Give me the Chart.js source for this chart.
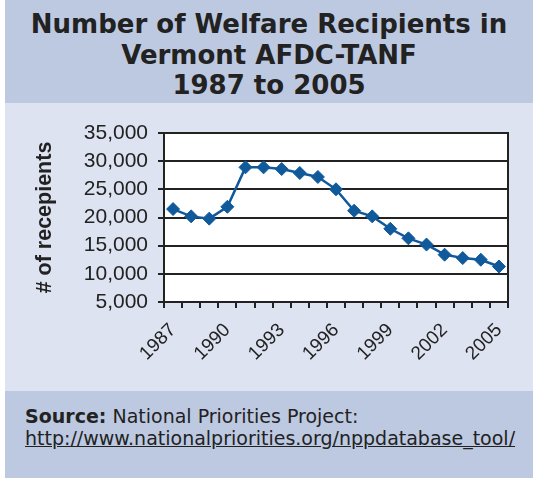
<!DOCTYPE html>
<html>
<head>
<meta charset="utf-8">
<script src="https://cdn.jsdelivr.net/npm/chart.js@4/dist/chart.umd.min.js"></script>
<style>
  html, body { margin: 0; padding: 0; background: #ffffff; }
  #page { position: relative; width: 533px; height: 478px; overflow: hidden; }
  #head { position: absolute; left: 5px; top: 0; width: 528px; height: 103px; background: #bdc9e1;
          font-family: "DejaVu Sans", Verdana, sans-serif; font-weight: bold; font-size: 26px;
          line-height: 30.5px; color: #222; text-align: center; box-sizing: border-box; padding-top: 9px; }
  #mid { position: absolute; left: 5px; top: 103px; width: 528px; height: 288px; background: #dde3f0; }
  #foot { position: absolute; left: 5px; top: 391px; width: 528px; height: 87px; background: #bdc9e1;
          font-family: "DejaVu Sans", Verdana, sans-serif; font-size: 19px; line-height: 22px; color: #222;
          box-sizing: border-box; padding: 14px 0 0 20px; }
  #foot a { color: #222; text-decoration: underline; }
  #chartBox { position: absolute; left: 0; top: 0; width: 528px; height: 288px; }
</style>
</head>
<body>
<div id="page">
  <div id="head">Number of Welfare Recipients in<br>Vermont AFDC-TANF<br>1987 to 2005</div>
  <div id="mid"><div id="chartBox"><canvas id="c"></canvas></div></div>
  <div id="foot"><b>Source:</b> National Priorities Project:<br><a>http://www.nationalpriorities.org/nppdatabase_tool/</a></div>
</div>
<script>
// Vermont AFDC-TANF welfare recipients by year
const years = ['1987','1988','1989','1990','1991','1992','1993','1994','1995','1996',
               '1997','1998','1999','2000','2001','2002','2003','2004','2005'];
const recipients = [21500, 20200, 19800, 21900, 28900, 28900, 28600, 27900, 27200, 25000,
                    21200, 20200, 18000, 16300, 15200, 13400, 12800, 12500, 11300];
const yTicks = [5000, 10000, 15000, 20000, 25000, 30000, 35000];

const ink = '#222222';
const lineBlue = '#105a9b';

// white plot area and a frame line on its right side
const plotFrame = {
  id: 'plotFrame',
  beforeDraw(chart) {
    const { ctx, chartArea: a } = chart;
    ctx.save();
    ctx.fillStyle = '#ffffff';
    ctx.fillRect(a.left, a.top, a.right - a.left, a.bottom - a.top);
    ctx.restore();
  },
  afterDatasetsDraw(chart) {
    const { ctx, chartArea: a } = chart;
    ctx.save();
    ctx.strokeStyle = ink;
    ctx.lineWidth = 2;
    ctx.beginPath();
    ctx.moveTo(a.right, a.top - 1);
    ctx.lineTo(a.right, a.bottom + 6);
    ctx.stroke();
    ctx.restore();
  }
};

new Chart(document.getElementById('c'), {
  type: 'line',
  data: {
    labels: years,
    datasets: [{
      data: recipients,
      borderColor: lineBlue,
      backgroundColor: lineBlue,
      borderWidth: 2.5,
      pointStyle: 'rectRot',
      pointRadius: 6.5,
      pointBorderWidth: 1,
      pointBackgroundColor: lineBlue,
      pointBorderColor: lineBlue,
      tension: 0,
      clip: false
    }]
  },
  options: {
    responsive: true,
    maintainAspectRatio: false,
    animation: false,
    events: [],
    layout: { padding: { top: 30, right: 25, left: 0, bottom: 0 } },
    plugins: { legend: { display: false }, tooltip: { enabled: false } },
    scales: {
      x: {
        type: 'category',
        offset: true,
        grid: { offset: true, drawOnChartArea: false, drawTicks: true, tickLength: 6, color: ink, lineWidth: 2 },
        border: { color: ink, width: 2 },
        ticks: {
          autoSkip: false,
          minRotation: 45,
          maxRotation: 45,
          padding: 11,
          color: ink,
          font: { family: '"Liberation Sans", Arial, sans-serif', size: 19 },
          callback(v, i) { return i % 3 === 0 ? years[i] : ''; }
        },
        afterFit(scale) { scale.height = 89; }
      },
      y: {
        min: 5000,
        max: 35000,
        afterBuildTicks(scale) { scale.ticks = yTicks.map(v => ({ value: v })); },
        grid: { color: ink, lineWidth: 2, tickLength: 6 },
        border: { color: ink, width: 2 },
        ticks: {
          autoSkip: false,
          padding: 10,
          color: ink,
          font: { family: '"Liberation Sans", Arial, sans-serif', size: 21 },
          callback(v) { return v.toLocaleString('en-US'); }
        },
        title: {
          display: true,
          text: '# of recepients',
          color: ink,
          padding: { top: 27, bottom: 0 },
          font: { family: '"Liberation Sans", Arial, sans-serif', size: 21.5, weight: 'bold' }
        },
        afterFit(scale) { scale.width = 159; }
      }
    }
  },
  plugins: [plotFrame]
});
</script>
</body>
</html>
